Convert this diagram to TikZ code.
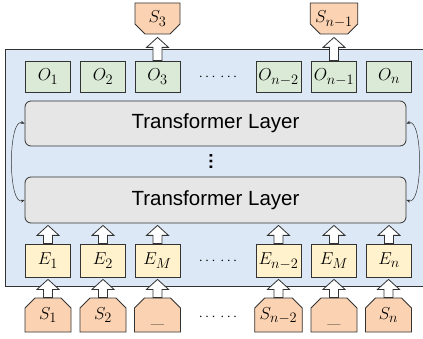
\documentclass[tikz,border=0pt]{standalone}
\usepackage{fontspec}
\setsansfont{Liberation Sans}
\usetikzlibrary{shapes.misc,arrows.meta,calc}
\definecolor{panelblue}{HTML}{DCE8F6}
\definecolor{boxgreen}{HTML}{DAEAD6}
\definecolor{boxyellow}{HTML}{FFF2CC}
\definecolor{boxorange}{HTML}{FCD3B2}
\definecolor{layergray}{HTML}{E6E6E6}
\definecolor{edge}{HTML}{333333}
\newcommand\blkarrow[3][3pt]{%
  \draw[blockarr] let \p1=(#2.north), \p2=(#3.south) in
    (\x1-4.5pt,\y1) -- (\x1-4.5pt,\y2-#1-10pt) -- (\x1-11pt,\y2-#1-10pt) --
    (\x1,\y2-#1) -- (\x1+11pt,\y2-#1-10pt) -- (\x1+4.5pt,\y2-#1-10pt) --
    (\x1+4.5pt,\y1) -- cycle;}
\begin{document}
\begin{tikzpicture}[x=1pt,y=-1pt,
  mathbox/.style={draw=edge, line width=0.8pt, inner sep=0pt, minimum width=45pt,
    font=\fontsize{19}{22}\selectfont, text height=13pt, text depth=4pt},
  obox/.style={mathbox, fill=boxgreen, minimum height=31pt},
  ebox/.style={mathbox, fill=boxyellow, minimum height=33pt},
  sbox/.style={mathbox, fill=boxorange, chamfered rectangle,
    chamfered rectangle xsep=5pt, chamfered rectangle ysep=5pt},
  sboxtop/.style={sbox, chamfered rectangle corners={south west,south east}, minimum height=31pt},
  sboxbot/.style={sbox, chamfered rectangle corners={north west,north east}, minimum height=34pt, minimum width=46pt},
  layer/.style={draw=edge, line width=0.8pt, fill=layergray, rounded corners=6pt,
    minimum width=381pt, inner sep=0pt, font=\sffamily\fontsize{20.5}{24}\selectfont},
  blockarr/.style={draw=edge, line width=0.8pt, fill=white},
  dotsnode/.style={inner sep=0pt, font=\fontsize{14}{16}\selectfont},
  curv/.style={draw=edge, line width=0.5pt, {Stealth[length=4pt,width=3pt]}-{Stealth[length=4pt,width=3pt]}}
]
\useasboundingbox (0,0) rectangle (423,339);
\fill[white] (0,0) rectangle (423,339);
\draw[fill=panelblue, draw=edge, line width=0.8pt] (5,49) rectangle (430,286);

\node[layer, minimum height=45pt] (up) at (215.5,123.5) {Transformer Layer};
\node[layer, minimum height=46pt] (lo) at (215.5,200) {Transformer Layer};

\node[inner sep=0pt, rotate=90, font=\sffamily\bfseries\fontsize{18}{20}\selectfont] (vd) at (211,162) {…};

% output row
\node[obox] (o1) at (48,76.5) {$O_1$};
\node[obox] (o2) at (103,76.5) {$O_2$};
\node[obox] (o3) at (157.5,76.5) {$O_3$};
\node[obox] (on2) at (278.5,76.5) {$O_{n-2}$};
\node[obox] (on1) at (334,76.5) {$O_{n-1}$};
\node[obox] (on) at (389,76.5) {$O_n$};
\node[dotsnode] (d1) at (218,77) {$\cdots\,\cdots$};

% predicted tokens
\node[sboxtop] (s3t) at (157.5,18.5) {$S_3$};
\node[sboxtop] (sn1t) at (334,18.5) {$S_{n-1}$};

% embedding row
\node[ebox] (e1) at (48,260.5) {$E_1$};
\node[ebox] (e2) at (103,260.5) {$E_2$};
\node[ebox] (em1) at (157.5,260.5) {$E_M$};
\node[ebox] (en2) at (278.5,260.5) {$E_{n-2}$};
\node[ebox] (em2) at (334,260.5) {$E_M$};
\node[ebox] (en) at (389,260.5) {$E_n$};
\node[dotsnode] (d2) at (218,261) {$\cdots\,\cdots$};

% input tokens
\node[sboxbot] (s1) at (48,315) {$S_1$};
\node[sboxbot] (s2) at (103,315) {$S_2$};
\node[sboxbot] (m1) at (157.5,315) {\raisebox{-3pt}{\_}};
\node[sboxbot] (sn2) at (278.5,315) {$S_{n-2}$};
\node[sboxbot] (m2) at (334,315) {\raisebox{-3pt}{\_}};
\node[sboxbot] (sn) at (388.5,315) {$S_n$};
\node[dotsnode] (d3) at (218,317) {$\cdots\,\cdots$};

% block arrows
\blkarrow{o3}{s3t}
\blkarrow{on1}{sn1t}
\blkarrow[2pt]{e1}{lo}
\blkarrow[2pt]{e2}{lo}
\blkarrow[2pt]{em1}{lo}
\blkarrow[2pt]{en2}{lo}
\blkarrow[2pt]{em2}{lo}
\blkarrow[2pt]{en}{lo}
\blkarrow[2pt]{s1}{e1}
\blkarrow[2pt]{s2}{e2}
\blkarrow[2pt]{m1}{em1}
\blkarrow[2pt]{sn2}{en2}
\blkarrow[2pt]{m2}{em2}
\blkarrow[2pt]{sn}{en}

% recurrence arrows
\draw[curv] (up.west) to[out=160,in=200,looseness=0.6] (lo.west);
\draw[curv] (up.east) to[out=20,in=-20,looseness=0.6] (lo.east);
\end{tikzpicture}
\end{document}
